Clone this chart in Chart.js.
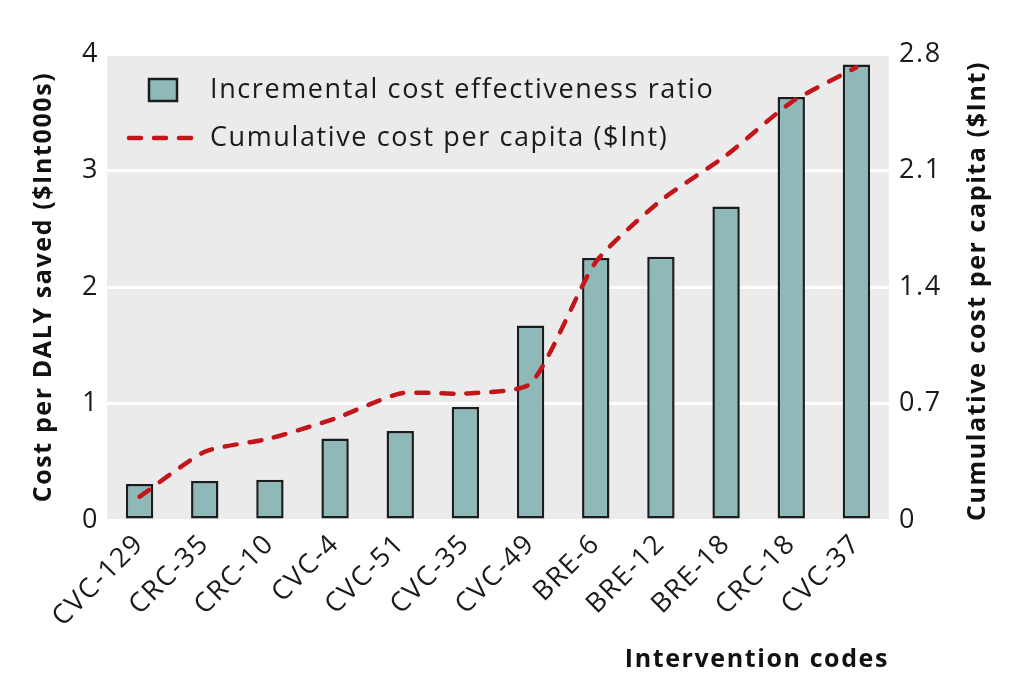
<!DOCTYPE html>
<html>
<head>
<meta charset="utf-8">
<script src="https://cdn.jsdelivr.net/npm/chart.js@4.4.1/dist/chart.umd.min.js"></script>
<style>
    html, body { margin: 0; padding: 0; background: #ffffff; }
    #wrap { width: 1024px; height: 685px; position: relative; }
</style>
</head>
<body>
<div id="wrap"><canvas id="icerChart"></canvas></div>
<script>
const codes = ['CVC-129', 'CRC-35', 'CRC-10', 'CVC-4', 'CVC-51', 'CVC-35', 'CVC-49', 'BRE-6', 'BRE-12', 'BRE-18', 'CRC-18', 'CVC-37'];
const icerValues = [0.31, 0.335, 0.345, 0.70, 0.765, 0.97, 1.67, 2.25, 2.26, 2.69, 3.63, 3.91];
const cumulativeCost = [0.14, 0.41, 0.49, 0.61, 0.76, 0.76, 0.82, 1.55, 1.92, 2.19, 2.51, 2.72];
const leftTicks = [0, 1, 2, 3, 4];
const rightTicks = [0, 0.7, 1.4, 2.1, 2.8];

const FONT = "'Open Sans', 'Noto Sans', sans-serif";
const SPACING = '1.6px';
const BAR_FILL = '#8fb9b9';
const BAR_EDGE = '#1c1c1c';
const LINE_RED = '#c2161b';
const PANEL_GREY = '#ebebeb';

// the reference type is set wide, so open up the letter spacing a bit
const spacingPlugin = {
    id: 'spacing',
    beforeUpdate(chart) { chart.ctx.letterSpacing = SPACING; },
    beforeDraw(chart) { chart.ctx.letterSpacing = SPACING; }
};

// grey panel behind the plot, legend inside it, right axis title read bottom-to-top
const panelPlugin = {
    id: 'panel',
    beforeDraw(chart) {
        const { ctx, chartArea } = chart;
        ctx.save();
        ctx.fillStyle = PANEL_GREY;
        ctx.fillRect(chartArea.left, chartArea.top, chartArea.right - chartArea.left, chartArea.bottom - chartArea.top);
        ctx.restore();
    },
    afterDraw(chart) {
        const { ctx, chartArea } = chart;
        const x0 = chartArea.left;
        const y0 = chartArea.top;
        ctx.save();
        ctx.letterSpacing = SPACING;
        // legend
        ctx.font = `400 27px ${FONT}`;
        ctx.fillStyle = '#1a1a1a';
        ctx.textBaseline = 'middle';
        ctx.fillText('Incremental cost effectiveness ratio', x0 + 103, y0 + 36);
        ctx.fillText('Cumulative cost per capita ($Int)', x0 + 103, y0 + 84);
        ctx.fillStyle = BAR_FILL;
        ctx.strokeStyle = BAR_EDGE;
        ctx.lineWidth = 2.5;
        ctx.fillRect(x0 + 42, y0 + 25, 28, 22);
        ctx.strokeRect(x0 + 42, y0 + 25, 28, 22);
        ctx.strokeStyle = LINE_RED;
        ctx.lineWidth = 4.5;
        ctx.lineCap = 'round';
        ctx.setLineDash([12, 13]);
        ctx.beginPath();
        ctx.moveTo(x0 + 22, y0 + 84);
        ctx.lineTo(x0 + 95, y0 + 84);
        ctx.stroke();
        ctx.setLineDash([]);
        // right axis title
        ctx.font = `700 25px ${FONT}`;
        ctx.fillStyle = '#111111';
        ctx.textAlign = 'center';
        ctx.translate(978, (chartArea.top + chartArea.bottom) / 2 + 4);
        ctx.rotate(-Math.PI / 2);
        ctx.fillText('Cumulative cost per capita ($Int)', 0, 0);
        ctx.restore();
    }
};

const ctx = document.getElementById('icerChart').getContext('2d');
new Chart(ctx, {
    data: {
        labels: codes,
        datasets: [
            {
                type: 'line',
                label: 'Cumulative cost per capita ($Int)',
                data: cumulativeCost,
                yAxisID: 'yRight',
                borderColor: LINE_RED,
                borderWidth: 4.5,
                borderDash: [12, 13],
                borderCapStyle: 'round',
                pointRadius: 0,
                tension: 0.2,
                fill: false,
                order: 0
            },
            {
                type: 'bar',
                label: 'Incremental cost effectiveness ratio',
                data: icerValues,
                yAxisID: 'y',
                backgroundColor: BAR_FILL,
                borderColor: BAR_EDGE,
                borderWidth: 2.5,
                borderSkipped: false,
                categoryPercentage: 1,
                barPercentage: 0.42,
                order: 1
            }
        ]
    },
    options: {
        responsive: true,
        maintainAspectRatio: false,
        animation: false,
        layout: { padding: { top: 54, left: 0, right: 0, bottom: 0 } },
        plugins: {
            legend: { display: false },
            tooltip: { enabled: false }
        },
        scales: {
            x: {
                grid: { display: false, drawTicks: false },
                border: { display: false },
                ticks: {
                    color: '#1a1a1a',
                    font: { family: FONT, size: 27 },
                    minRotation: 45,
                    maxRotation: 45,
                    padding: 8
                },
                title: {
                    display: true,
                    text: 'Intervention codes',
                    align: 'end',
                    color: '#111111',
                    font: { family: FONT, size: 25, weight: '700' },
                    padding: { top: 4, bottom: 10 }
                },
                afterFit: s => { s.height = 165; }
            },
            y: {
                position: 'left',
                min: 0,
                max: 4,
                afterBuildTicks: s => { s.ticks = leftTicks.map(v => ({ value: v })); },
                grid: { color: '#ffffff', lineWidth: 3, drawTicks: false },
                border: { display: false },
                ticks: {
                    color: '#1a1a1a',
                    font: { family: FONT, size: 27 },
                    padding: 8
                },
                title: {
                    display: true,
                    text: 'Cost per DALY saved ($Int000s)',
                    color: '#111111',
                    font: { family: FONT, size: 25, weight: '700' },
                    padding: { top: 29, bottom: 0 }
                },
                afterFit: s => { s.width = 107; }
            },
            yRight: {
                position: 'right',
                min: 0,
                max: 2.8,
                afterBuildTicks: s => { s.ticks = rightTicks.map(v => ({ value: v })); },
                grid: { display: false, drawTicks: false },
                border: { display: false },
                ticks: {
                    color: '#1a1a1a',
                    font: { family: FONT, size: 27 },
                    padding: 10,
                    callback: v => (v === 0 ? '0' : v.toFixed(1))
                },
                afterFit: s => { s.width = 135; }
            }
        }
    },
    plugins: [spacingPlugin, panelPlugin]
});
</script>
</body>
</html>
